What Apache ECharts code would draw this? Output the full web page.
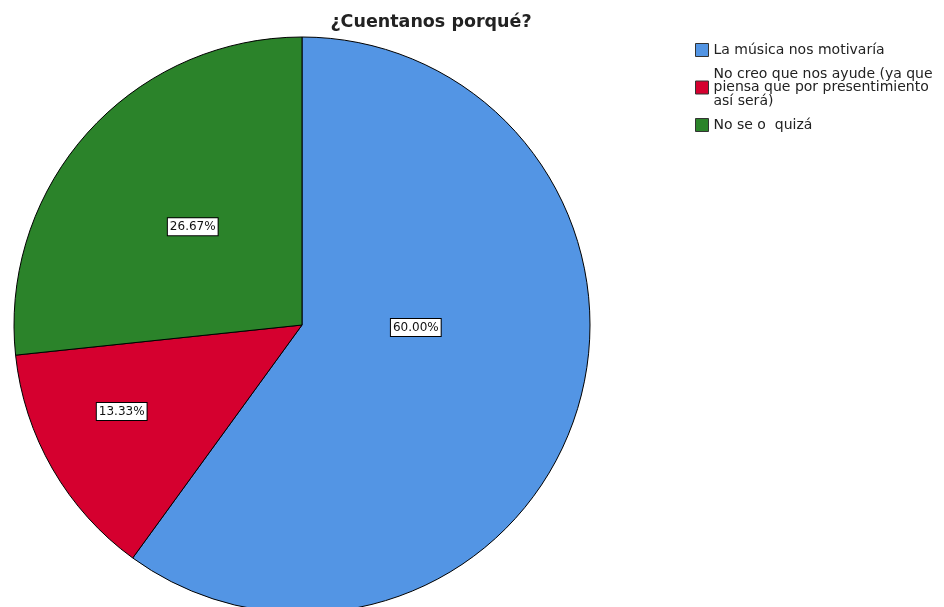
<!DOCTYPE html>
<html><head><meta charset="utf-8">
<script src="https://cdn.jsdelivr.net/npm/echarts@6/dist/echarts.min.js"></script>
<style>html,body{margin:0;padding:0;background:#fff}#c{width:944px;height:607px}</style>
</head><body><div id="c"></div>
<script>
const title = '¿Cuentanos porqué?';
const categories = ['La música nos motivaría', 'No creo que nos ayude (ya que\npiensa que por presentimiento\nasí será)', 'No se o  quizá'];
const values = [60.00, 13.33, 26.67];
const colors = ['#5395e4', '#d5002f', '#2b832a'];
const labelOffsets = [[-26, -43], [-53, 13], [0, 0]];

const chart = echarts.init(document.getElementById('c'));
chart.setOption({
  animation: false,
  title: {
    text: title, left: 426, top: 8, textAlign: 'center',
    textStyle: {fontFamily: 'DejaVu Sans', fontSize: 17.5, fontWeight: 'bold', color: '#222'}
  },
  legend: {
    orient: 'vertical', left: 690, top: 38,
    itemWidth: 13, itemHeight: 13, itemGap: 10,
    icon: 'rect',
    itemStyle: {borderColor: '#333', borderWidth: 1},
    textStyle: {fontFamily: 'DejaVu Sans', fontSize: 14, color: '#222', lineHeight: 13.5},
    data: categories
  },
  series: [{
    type: 'pie',
    center: [302, 325], radius: 288,
    startAngle: 90, clockwise: true,
    itemStyle: {borderColor: '#000', borderWidth: 1},
    label: {
      position: 'inside',
      formatter: p => p.value.toFixed(2) + '%',
      fontFamily: 'DejaVu Sans', fontSize: 12, color: '#111',
      backgroundColor: '#fff', borderColor: '#000', borderWidth: 1, padding: [3, 2, 2, 2]
    },
    labelLine: {show: false},
    data: categories.map((n, i) => ({
      name: n, value: values[i],
      itemStyle: {color: colors[i]},
      label: {offset: labelOffsets[i]}
    }))
  }]
});
</script></body></html>
